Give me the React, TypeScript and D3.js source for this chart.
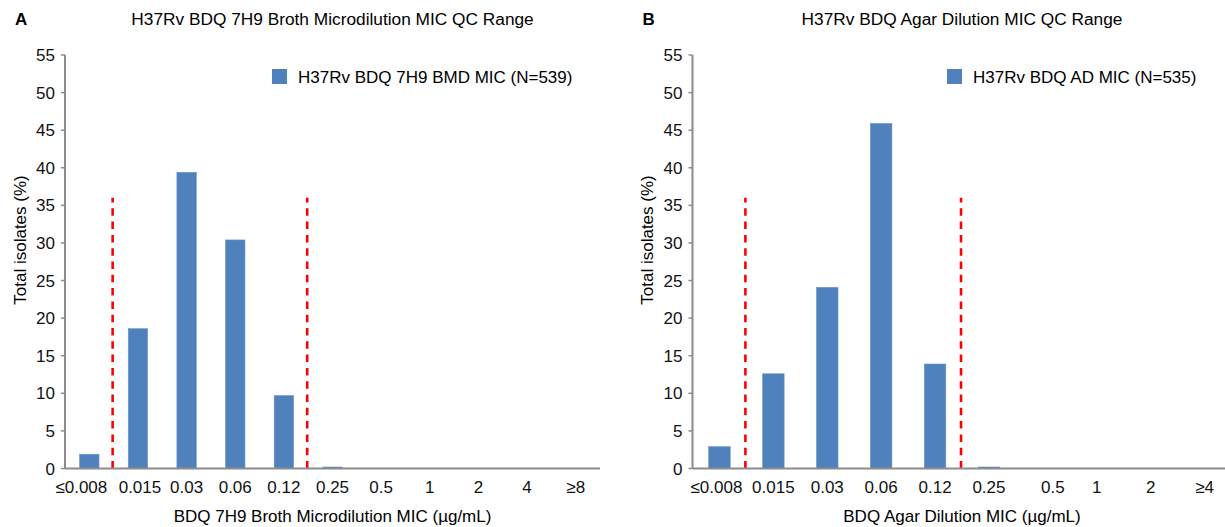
import React from "react";
import * as d3 from "d3";

// panel A: broth microdilution
const catsA = ["≤0.008", "0.015", "0.03", "0.06", "0.12", "0.25", "0.5", "1", "2", "4", "≥8"];
const valsA = [1.9, 18.6, 39.4, 30.4, 9.7, 0.2, 0, 0, 0, 0, 0];
// panel B: agar dilution
const catsB = ["≤0.008", "0.015", "0.03", "0.06", "0.12", "0.25", "0.5", "1", "2", "≥4"];
const valsB = [2.9, 12.6, 24.1, 45.9, 13.9, 0.2, 0, 0, 0, 0];

const yTicks = d3.range(0, 60, 5);
const qcTop = 36;

const W = 1225;
const H = 527;
const FONT = "Arial, 'Liberation Sans', Helvetica, sans-serif";
const BLUE = "#4f81bd";
const AXIS = "#8c8c8c";

type PanelProps = {
  letter: string;
  title: string;
  legend: string;
  xTitle: string;
  cats: string[];
  vals: number[];
  x0: number;
  step: number;
  legendX: number;
  qc: [string, string];
  nudge: Record<string, number>;
};

const Panel = ({ letter, title, legend, xTitle, cats, vals, x0, step, legendX, qc, nudge }: PanelProps) => {
  const slot = d3
    .scaleBand<string>()
    .domain(cats)
    .range([x0, x0 + step * cats.length])
    .padding(0);
  const y = d3.scaleLinear().domain([0, 55]).range([468.5, 55]);
  const bw = slot.bandwidth();
  const barW = bw * 0.4;
  const xEnd = Math.min(x0 + step * cats.length, W);
  const mid = x0 + (step * cats.length) / 2;

  return (
    <g fontFamily={FONT} fill="#000">
      <text x={x0 - 50} y={24.5} fontSize={17} fontWeight="bold">{letter}</text>
      <text x={mid} y={24.5} fontSize={17.3} textAnchor="middle">{title}</text>

      {/* bars */}
      {vals.map((v, i) => (
        <rect
          key={i}
          x={(slot(cats[i]) as number) + (bw - barW) / 2}
          y={y(v)}
          width={barW}
          height={y(0) - y(v)}
          fill={BLUE}
          stroke="#6f97cc"
          strokeWidth={0.6}
        />
      ))}

      {/* QC range lines */}
      {qc.map((c, i) => {
        const xx = (slot(c) as number) + (i === 0 ? 0 : bw) - 1;
        return (
          <line
            key={c}
            x1={xx}
            x2={xx}
            y1={y(0)}
            y2={y(qcTop)}
            stroke="#ff0000"
            strokeWidth={2.6}
            strokeDasharray="7.5,5.8"
          />
        );
      })}

      {/* y axis */}
      <line x1={x0} x2={x0} y1={y(0)} y2={y(55)} stroke={AXIS} strokeWidth={2} />
      {yTicks.map((t) => (
        <g key={t}>
          <line x1={x0 - 4} x2={x0} y1={y(t)} y2={y(t)} stroke={AXIS} strokeWidth={1.5} />
          <text x={x0 - 10} y={y(t)} dy="0.36em" fontSize={17} textAnchor="end" fill="#111">
            {t}
          </text>
        </g>
      ))}
      <text
        transform={`translate(${x0 - 45},240) rotate(-90)`}
        fontSize={17}
        textAnchor="middle"
        dominantBaseline="central"
      >
        Total isolates (%)
      </text>

      {/* x axis */}
      <line x1={x0} x2={xEnd} y1={y(0)} y2={y(0)} stroke={AXIS} strokeWidth={2} />
      {cats.map((c) => (
        <text
          key={c}
          x={(slot(c) as number) + bw / 2}
          dx={nudge[c] || 0}
          y={493}
          fontSize={17}
          textAnchor="middle"
          fill="#111"
        >
          {c}
        </text>
      ))}
      <text x={mid} y={522} fontSize={17} textAnchor="middle">{xTitle}</text>

      {/* legend */}
      <rect x={legendX} y={69} width={15} height={15} fill={BLUE} />
      <text x={legendX + 26} y={82.8} fontSize={17}>{legend}</text>
    </g>
  );
};

const App = () => {
  return (
    <svg
      width={W}
      height={H}
      style={{ position: "absolute", left: 0, top: 0, background: "#fff" }}
    >
      <rect width={W} height={H} fill="#fff" />
      <Panel
        letter="A"
        title="H37Rv BDQ 7H9 Broth Microdilution MIC QC Range"
        legend="H37Rv BDQ 7H9 BMD MIC (N=539)"
        xTitle="BDQ 7H9 Broth Microdilution MIC (µg/mL)"
        cats={catsA}
        vals={valsA}
        x0={65}
        step={48.64}
        legendX={272}
        qc={["0.015", "0.12"]}
        nudge={{ "≤0.008": -8, "0.015": 2 }}
      />
      <Panel
        letter="B"
        title="H37Rv BDQ Agar Dilution MIC QC Range"
        legend="H37Rv BDQ AD MIC (N=535)"
        xTitle="BDQ Agar Dilution MIC (µg/mL)"
        cats={catsB}
        vals={valsB}
        x0={692.5}
        step={53.9}
        legendX={947}
        qc={["0.015", "0.12"]}
        nudge={{ "≤0.008": -3, "0.5": 10 }}
      />
    </svg>
  );
};

export default App;
